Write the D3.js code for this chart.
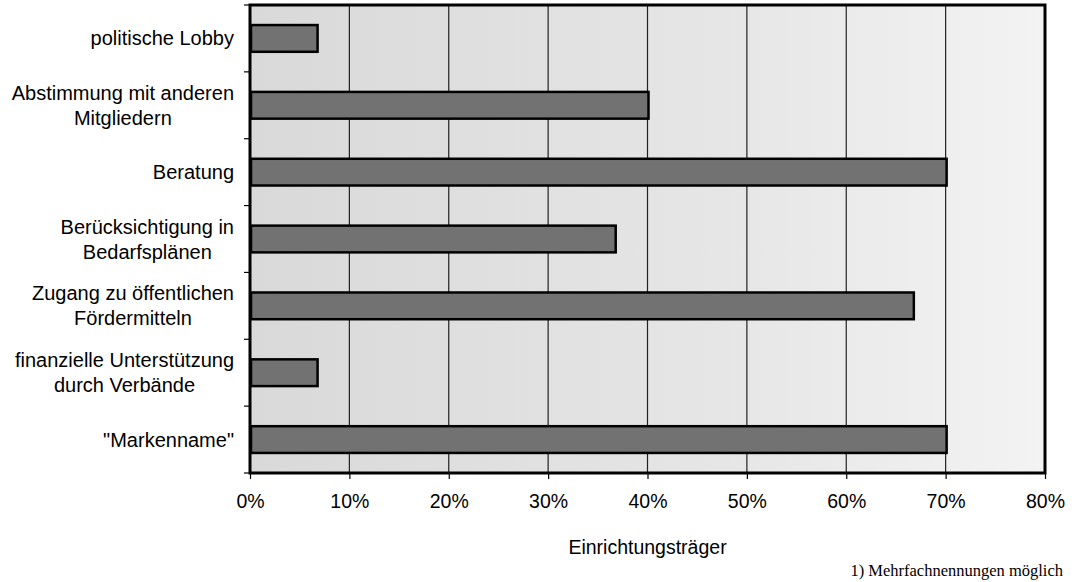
<!DOCTYPE html>
<html>
<head>
<meta charset="utf-8">
<script src="https://cdn.jsdelivr.net/npm/d3@7"></script>
<style>
  body { margin: 0; background: #fff; }
  svg { display: block; }
</style>
</head>
<body>
<svg id="chart" width="1072" height="582"></svg>
<script>
// categories (top to bottom), each label split into its lines
const categories = [
    ['politische Lobby'],
    ['Abstimmung mit anderen', 'Mitgliedern'],
    ['Beratung'],
    ['Berücksichtigung in', 'Bedarfsplänen'],
    ['Zugang zu öffentlichen', 'Fördermitteln'],
    ['finanzielle Unterstützung', 'durch Verbände'],
    ['"Markenname"']
];
// share of institutions (%)
const values = [6.7, 40, 70, 36.7, 66.7, 6.7, 70];
const xTicks = [0, 10, 20, 30, 40, 50, 60, 70, 80];

const svg = d3.select('#chart');
const margin = { top: 5, right: 27, bottom: 109, left: 250 };
const width = 1072 - margin.left - margin.right;
const height = 582 - margin.top - margin.bottom;

const x = d3.scaleLinear().domain([0, 80]).range([0, width]);
const y = d3.scaleBand().domain(d3.range(categories.length)).range([0, height]).paddingInner(0.6).paddingOuter(0.3);
const yBand = d3.scaleBand().domain(d3.range(categories.length)).range([0, height]);

const g = svg.append('g').attr('transform', `translate(${margin.left},${margin.top})`);

// plot background
const defs = svg.append('defs');
const grad = defs.append('linearGradient').attr('id', 'bg');
grad.append('stop').attr('offset', '0%').attr('stop-color', '#d9d9d9');
grad.append('stop').attr('offset', '60%').attr('stop-color', '#e6e6e6');
grad.append('stop').attr('offset', '100%').attr('stop-color', '#f3f3f3');

g.append('rect')
    .attr('width', width)
    .attr('height', height)
    .attr('fill', 'url(#bg)');

// vertical gridlines
g.selectAll('.grid')
    .data(xTicks.slice(1, -1))
    .enter()
    .append('line')
    .attr('x1', d => x(d))
    .attr('x2', d => x(d))
    .attr('y1', 0)
    .attr('y2', height)
    .attr('stroke', '#222')
    .attr('stroke-width', 1.2);

// bars
g.selectAll('.bar')
    .data(values)
    .enter()
    .append('rect')
    .attr('x', x(0) + 1)
    .attr('y', (d, i) => y(i))
    .attr('width', d => x(d) - x(0))
    .attr('height', y.bandwidth())
    .attr('fill', '#727272')
    .attr('stroke', '#000')
    .attr('stroke-width', 2.5);

// frame
g.append('rect')
    .attr('width', width)
    .attr('height', height)
    .attr('fill', 'none')
    .attr('stroke', '#000')
    .attr('stroke-width', 3);

// x axis
const xAxis = g.append('g')
    .attr('transform', `translate(0,${height})`)
    .call(d3.axisBottom(x).tickValues(xTicks).tickFormat(d => d + '%').tickSize(6).tickPadding(15));
xAxis.select('.domain').remove();
xAxis.selectAll('line').attr('stroke', '#000').attr('stroke-width', 1.2);
xAxis.selectAll('text')
    .attr('fill', '#000')
    .style('font-family', 'Liberation Sans, Arial, sans-serif')
    .style('font-size', '19.5px');

// left tick marks at band boundaries
g.selectAll('.ytick')
    .data(d3.range(categories.length + 1))
    .enter()
    .append('line')
    .attr('x1', -6)
    .attr('x2', 0)
    .attr('y1', i => i * yBand.step())
    .attr('y2', i => i * yBand.step())
    .attr('stroke', '#000')
    .attr('stroke-width', 1.2);

// category labels
const lineH = 25;
categories.forEach((lines, i) => {
    const cy = yBand(i) + yBand.bandwidth() / 2;
    const t = g.append('text')
        .attr('text-anchor', 'middle')
        .attr('fill', '#000')
        .style('font-family', 'Liberation Sans, Arial, sans-serif')
        .style('font-size', '20px');
    lines.forEach((line, j) => {
        t.append('tspan')
            .attr('x', 0)
            .attr('y', cy + (j - (lines.length - 1) / 2) * lineH)
            .attr('dy', '0.35em')
            .text(line);
    });
    // right align the block, centre lines within it
    const bb = t.node().getBBox();
    t.attr('transform', `translate(${-16 - bb.width / 2},0)`);
});

// axis title
g.append('text')
    .attr('x', width / 2)
    .attr('y', height + 81)
    .attr('text-anchor', 'middle')
    .attr('fill', '#000')
    .style('font-family', 'Liberation Sans, Arial, sans-serif')
    .style('font-size', '19.5px')
    .text('Einrichtungsträger');

// footnote
svg.append('text')
    .attr('x', 1063)
    .attr('y', 576)
    .attr('text-anchor', 'end')
    .attr('fill', '#000')
    .style('font-family', 'Liberation Serif, Times New Roman, serif')
    .style('font-size', '16.5px')
    .text('1) Mehrfachnennungen möglich');
</script>
</body>
</html>
